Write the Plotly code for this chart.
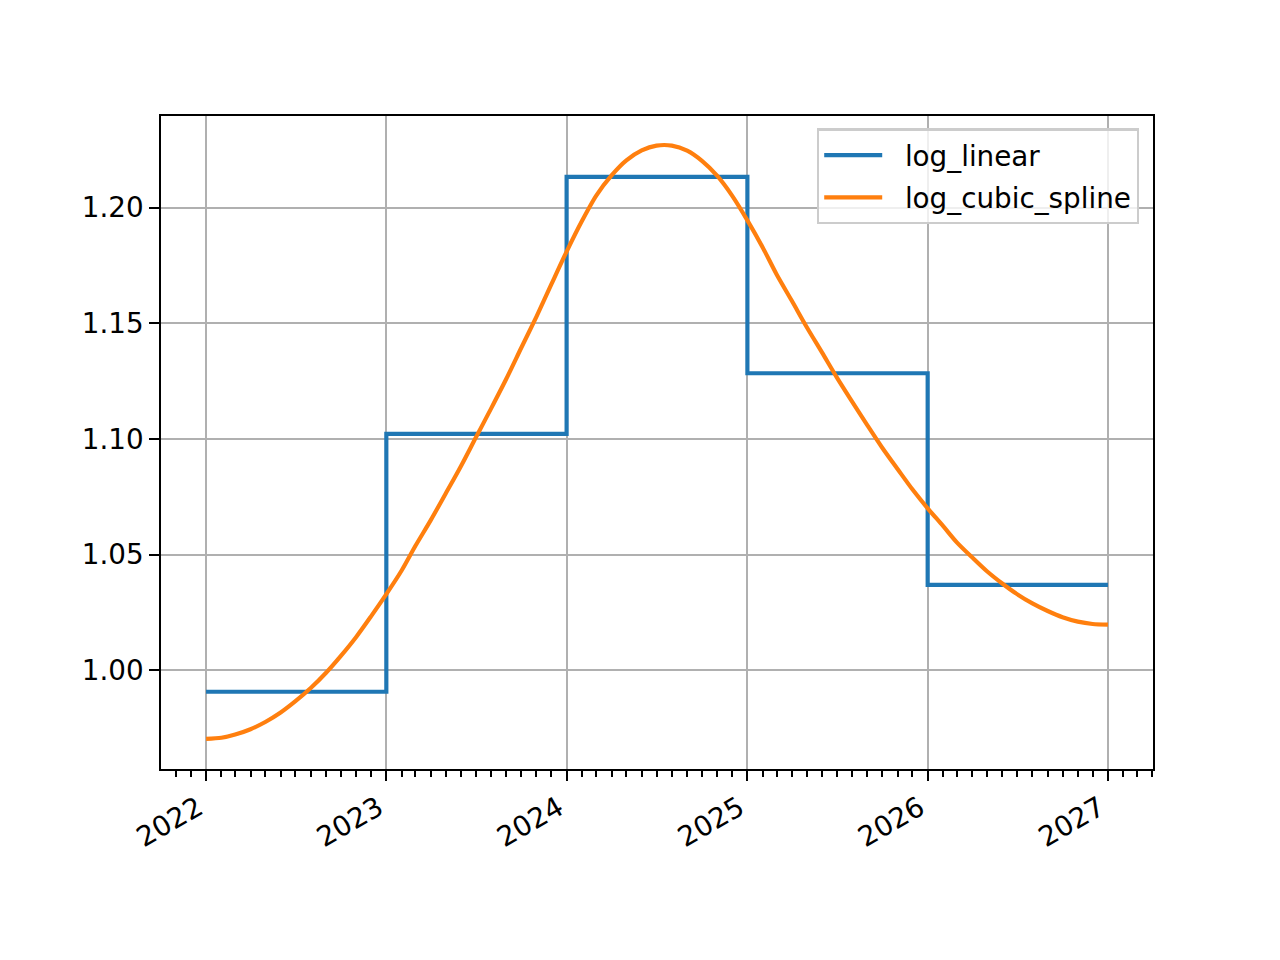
import plotly.graph_objects as go

# --- data ---
step_dates = ["2022-01-01", "2023-01-01", "2024-01-01", "2025-01-01", "2026-01-01", "2027-01-01"]
log_linear = [0.9907, 1.1022, 1.2133, 1.1284, 1.0369, 1.0369]

# monthly readings of the smooth curve (first day of each month, 2022-01 .. 2027-01)
spline_dates = [f"{y}-{m:02d}-01" for y in range(2022, 2027) for m in range(1, 13)] + ["2027-01-01"]
log_cubic_spline = [
    # 2022
    0.9703, 0.9708, 0.9722, 0.9745, 0.9776, 0.9817,
    0.9866, 0.9923, 0.9989, 1.0062, 1.0144, 1.0233,
    # 2023
    1.0329, 1.0431, 1.0538, 1.0649, 1.0763, 1.0882,
    1.1005, 1.1131, 1.1260, 1.1393, 1.1529, 1.1668,
    # 2024
    1.1810, 1.1942, 1.2052, 1.2139, 1.2204, 1.2247,
    1.2268, 1.2268, 1.2246, 1.2202, 1.2137, 1.2052,
    # 2025
    1.1945, 1.1828, 1.1712, 1.1597, 1.1484, 1.1374,
    1.1266, 1.1161, 1.1059, 1.0962, 1.0870, 1.0782,
    # 2026
    1.0700, 1.0624, 1.0553, 1.0488, 1.0428, 1.0375,
    1.0329, 1.0289, 1.0256, 1.0229, 1.0210, 1.0200,
    # 2027
    1.0197,
]

y_ticks = [1.00, 1.05, 1.10, 1.15, 1.20]
y_tick_text = ["1.00", "1.05", "1.10", "1.15", "1.20"]
x_ticks = ["2022-01-01", "2023-01-01", "2024-01-01", "2025-01-01", "2026-01-01", "2027-01-01"]
x_tick_text = ["2022", "2023", "2024", "2025", "2026", "2027"]
series_names = ["log_linear", "log_cubic_spline"]

FONT = "DejaVu Sans"
FS = 27.8
LW = 4.17
THIN = 2.2
PAD = "\u00a0\u00a0"

fig = go.Figure()
fig.add_trace(go.Scatter(
    x=step_dates, y=log_linear, mode="lines", name=PAD + series_names[0],
    line=dict(color="#1f77b4", width=LW, shape="hv"), legendgroup="a",
))
fig.add_trace(go.Scatter(
    x=spline_dates, y=log_cubic_spline, mode="lines", name=PAD + series_names[1],
    line=dict(color="#ff7f0e", width=LW, shape="spline", smoothing=0.8), legendgroup="b",
))

fig.update_layout(
    width=1280, height=960,
    margin=dict(l=153, r=135, t=108, b=199),
    paper_bgcolor="white", plot_bgcolor="white",
    font=dict(family=FONT, size=FS, color="black"),
    showlegend=True,
    legend=dict(
        x=0.9859, y=0.981, xanchor="right", yanchor="top",
        bgcolor="rgba(255,255,255,0.8)", bordercolor="#cccccc", borderwidth=THIN,
        font=dict(family=FONT, size=FS, color="black"),
        itemwidth=58, tracegroupgap=3, traceorder="grouped",
    ),
)

fig.update_xaxes(
    type="date",
    range=["2021-10-01 19:00", "2027-04-02 05:00"],
    tickmode="array", tickvals=x_ticks, ticktext=x_tick_text,
    tickangle=-30, ticklabelshift=-8,
    ticks="outside", ticklen=9.7, tickwidth=THIN, tickcolor="black",
    showgrid=True, gridcolor="#b0b0b0", gridwidth=THIN,
    showline=True, linecolor="black", linewidth=THIN, mirror=True,
    zeroline=False,
    minor=dict(ticks="outside", ticklen=5.6, tickwidth=THIN, tickcolor="black",
               dtick="M1", tick0="2022-01-01", showgrid=False),
    tickfont=dict(family=FONT, size=FS, color="black"),
)
fig.update_yaxes(
    range=[0.9573, 1.2396],
    tickmode="array", tickvals=y_ticks, ticktext=y_tick_text,
    ticks="outside", ticklen=9.7, tickwidth=THIN, tickcolor="black",
    showgrid=True, gridcolor="#b0b0b0", gridwidth=THIN,
    showline=True, linecolor="black", linewidth=THIN, mirror=True,
    zeroline=False,
    tickfont=dict(family=FONT, size=FS, color="black"),
)

fig.write_html("out.html")
